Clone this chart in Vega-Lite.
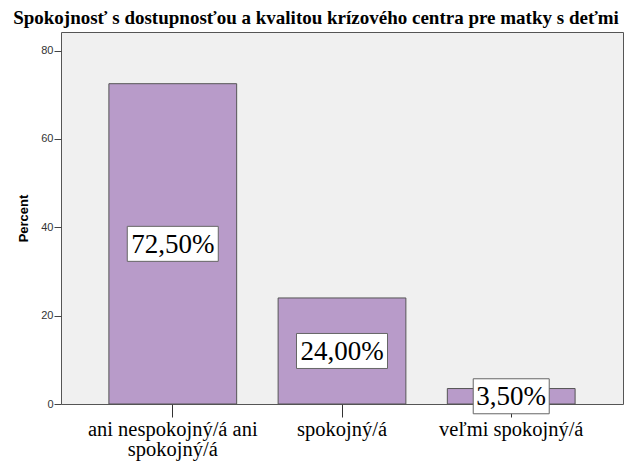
{
  "$schema": "https://vega.github.io/schema/vega-lite/v6.json",
  "width": 562,
  "height": 372,
  "autosize": {"type": "none"},
  "padding": {"left": 61, "top": 32, "right": 3, "bottom": 58},
  "background": "white",
  "title": {
    "text": "Spokojnosť s dostupnosťou a kvalitou krízového centra pre matky s deťmi",
    "font": "Liberation Serif",
    "fontSize": 19,
    "fontWeight": "bold",
    "color": "black",
    "anchor": "middle",
    "baseline": "alphabetic",
    "dx": -26,
    "dy": 13,
    "offset": 2
  },
  "data": {
    "values": [
      {"kategoria": "ani nespokojný/á ani spokojný/á", "pct": 72.5},
      {"kategoria": "spokojný/á", "pct": 24.0},
      {"kategoria": "veľmi spokojný/á", "pct": 3.5}
    ]
  },
  "transform": [
    {"calculate": "datum.pct / 2", "as": "mid"},
    {"calculate": "replace(format(datum.pct, '.2f'), '.', ',') + '%'", "as": "lbl"}
  ],
  "encoding": {
    "x": {
      "field": "kategoria",
      "type": "nominal",
      "sort": null,
      "scale": {"paddingInner": 0.245, "paddingOuter": 0.283},
      "axis": {
        "title": null,
        "labelAngle": 0,
        "labelFont": "Liberation Serif",
        "labelFontSize": 20.5,
        "labelColor": "black",
        "labelLineHeight": 20,
        "labelPadding": 2,
        "tickSize": 13,
        "tickColor": "#333",
        "domain": false,
        "labelExpr": "datum.label == 'ani nespokojný/á ani spokojný/á' ? ['ani nespokojný/á ani', 'spokojný/á'] : datum.label"
      }
    }
  },
  "layer": [
    {
      "mark": {"type": "bar", "fill": "#b89bc9", "stroke": "#555555", "strokeWidth": 1},
      "encoding": {
        "y": {
          "field": "pct",
          "type": "quantitative",
          "scale": {"domain": [0, 84.2], "nice": false},
          "axis": {
            "title": "Percent",
            "titleFont": "Liberation Sans",
            "titleFontSize": 13,
            "titleFontWeight": "bold",
            "titleColor": "black",
            "titlePadding": 10,
            "values": [0, 20, 40, 60, 80],
            "labelFont": "Liberation Sans",
            "labelFontSize": 11,
            "labelColor": "#333",
            "labelPadding": 1,
            "tickSize": 7,
            "tickColor": "#444",
            "grid": false,
            "domain": false
          }
        }
      }
    },
    {
      "mark": {"type": "point", "filled": true, "fill": "white", "stroke": "#666666", "strokeWidth": 1, "opacity": 1, "size": 10000},
      "encoding": {
        "y": {"field": "mid", "type": "quantitative"},
        "shape": {
          "condition": {"test": "datum.pct < 10", "value": "M-0.76,-0.35H0.76V0.35H-0.76Z"},
          "value": "M-0.91,-0.35H0.91V0.35H-0.91Z"
        }
      }
    },
    {
      "mark": {"type": "text", "font": "Liberation Serif", "fontSize": 27, "color": "black", "baseline": "middle", "align": "center", "dy": 1},
      "encoding": {
        "y": {"field": "mid", "type": "quantitative"},
        "text": {"field": "lbl"}
      }
    }
  ],
  "config": {
    "view": {"fill": "#f0f0f0", "stroke": "#555555", "strokeWidth": 1}
  }
}
